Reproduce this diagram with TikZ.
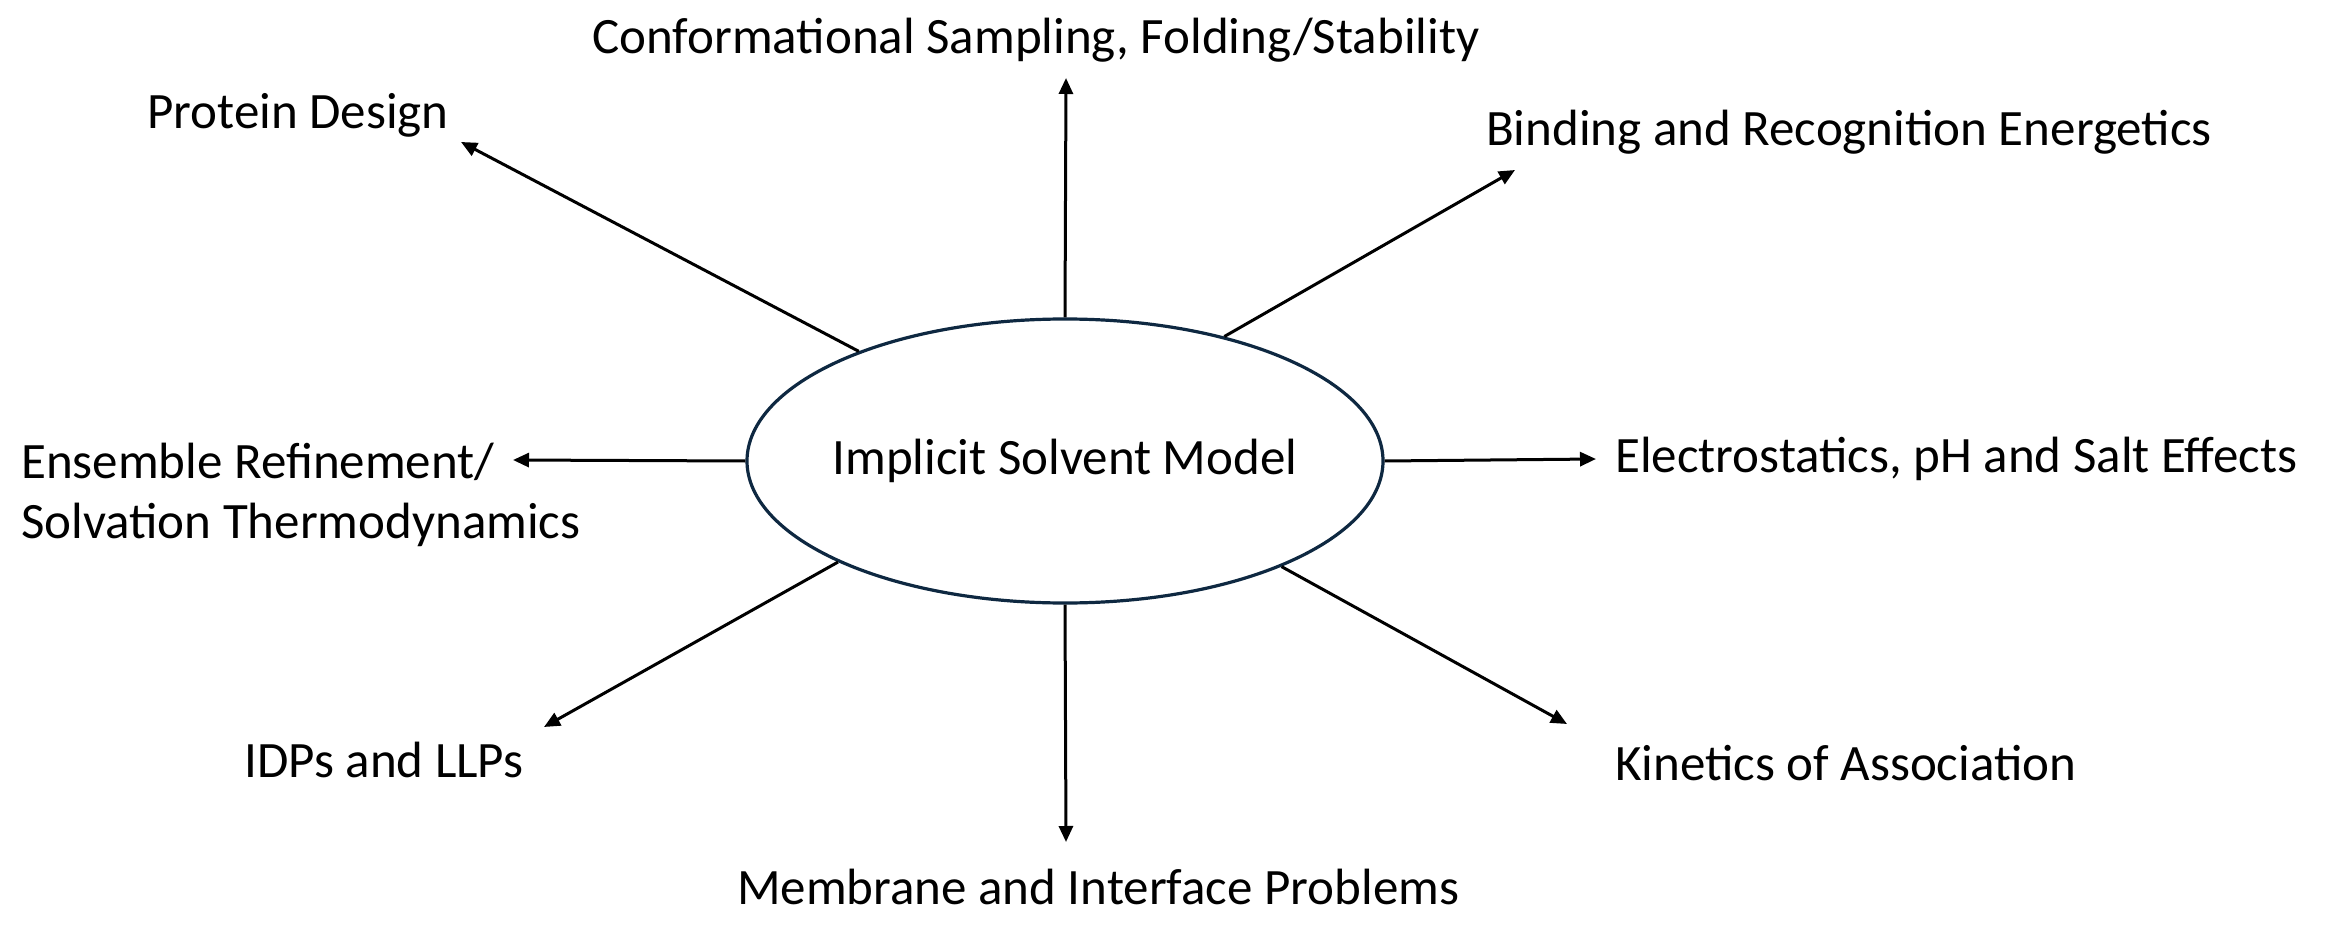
\documentclass[tikz,border=0pt]{standalone}
\usepackage{fontspec}
\setmainfont{Carlito}
\usetikzlibrary{shapes.geometric,arrows.meta}
\definecolor{ellcol}{RGB}{14,40,65}
\begin{document}
\begin{tikzpicture}[x=1pt,y=-1pt,
  lbl/.style={inner sep=0pt,font=\fontsize{51}{60}\selectfont},
  arr/.style={line width=3pt,-{Triangle[length=16pt,width=14pt]}},
  ell/.style={ellipse,draw=ellcol,line width=3.2pt,fill=white,minimum width=636pt,minimum height=284pt,inner xsep=-110pt,inner ysep=0pt}]
\useasboundingbox (0,0) rectangle (2345,933);
\node[lbl,ell] (E) at (1065,461) {Implicit Solvent Model};
% free ends
\coordinate (tU) at (1066,78);
\coordinate (tP) at (461,142);
\coordinate (tB) at (1515,170);
\coordinate (tEn) at (513,460);
\coordinate (tEl) at (1596,459);
\coordinate (tI) at (544,727);
\coordinate (tM) at (1066,842);
\coordinate (tK) at (1567,724);
% labels
\node[lbl] (lU) at (1036,40) {Conformational Sampling, Folding/Stability};
\node[lbl] (lP) at (298,115) {Protein Design};
\node[lbl,anchor=west] (lB) at (1486,132) {Binding and Recognition Energetics};
\node[lbl,align=left,anchor=west] (lEn) at (21,495) {Ensemble Refinement/\\Solvation Thermodynamics};
\node[lbl,anchor=west] (lEl) at (1615,459) {Electrostatics, pH and Salt Effects};
\node[lbl] (lI) at (384,760) {IDPs and LLPs};
\node[lbl] (lM) at (1098,887) {Membrane and Interface Problems};
\node[lbl,anchor=west] (lK) at (1615,763) {Kinetics of Association};
% arrows
\draw[arr] (E.90) -- (tU);
\draw[arr] (E.152.6) -- (tP);
\draw[arr] (E.38.8) -- (tB);
\draw[arr] (E.180) -- (tEn);
\draw[arr] (E.0) -- (tEl);
\draw[arr] (E.204.8) -- (tI);
\draw[arr] (E.270) -- (tM);
\draw[arr] (E.334) -- (tK);
\end{tikzpicture}
\end{document}
